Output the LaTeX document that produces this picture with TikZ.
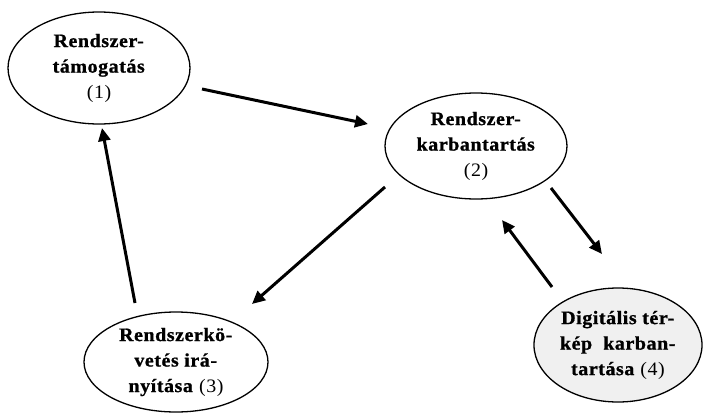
\documentclass[tikz,border=0pt]{standalone}
\usepackage{fontspec}
\setmainfont{Liberation Serif}
\newfontfamily\labfont{Liberation Serif}[FakeStretch=1.05,LetterSpace=3,BoldFeatures={FakeBold=1}]
\usetikzlibrary{shapes.geometric,arrows.meta,calc}

\tikzset{
  stage/.style={draw=black, line width=1.3pt, ellipse, inner sep=0pt,
    align=center, font=\labfont\fontsize{19}{25.5}\selectfont},
  flow/.style={line width=3pt,
    -{Triangle[length=13pt,width=12pt]}}
}

\begin{document}
\begin{tikzpicture}[x=1pt,y=-1pt]
  \useasboundingbox (0,0) rectangle (705,416);

  % the four activities
  \node[stage, minimum width=182pt, minimum height=112pt] (e1) at (99,68)
    {\textbf{Rendszer-}\\\textbf{támogatás}\\(1)};
  \node[stage, minimum width=182pt, minimum height=106pt] (e2) at (476,146)
    {\textbf{Rendszer-}\\\textbf{karbantartás}\\(2)};
  \node[stage, minimum width=184pt, minimum height=100pt] (e3) at (176,362)
    {\textbf{Rendszerkö-}\\\textbf{vetés irá-}\\\textbf{nyítása} (3)};
  \node[stage, fill=black!6, minimum width=168pt, minimum height=114pt] (e4) at (618,345)
    {\textbf{Digitális tér-}\\\textbf{kép\ \ karban-}\\\textbf{tartása} (4)};

  % connections between the activities
  \draw[flow] ($(e1)+(103,21)$) -- ($(e2)+(-108,-22)$);
  \draw[flow] ($(e2)+(-91,41)$) -- ($(e3)+(76,-58)$);
  \draw[flow] ($(e2)+(75,42)$) -- ($(e4)+(-16,-91)$);
  \draw[flow] ($(e4)+(-66,-58)$) -- ($(e2)+(26,74)$);
  \draw[flow] ($(e3)+(-41,-59)$) -- ($(e1)+(3,60)$);
\end{tikzpicture}
\end{document}
